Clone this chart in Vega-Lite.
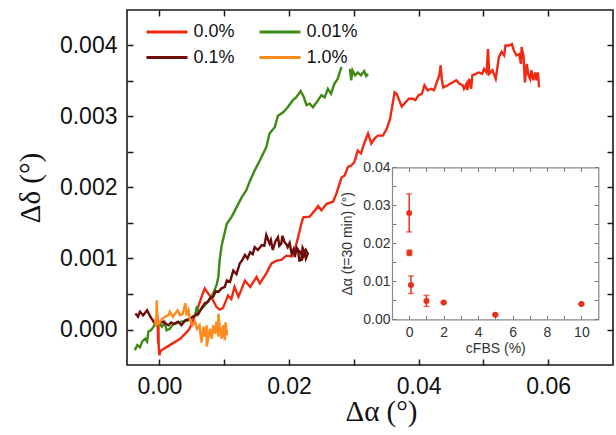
{
  "$schema": "https://vega.github.io/schema/vega-lite/v6.json",
  "width": 486,
  "height": 355,
  "autosize": "none",
  "padding": {"left": 127, "top": 10, "right": 3, "bottom": 70},
  "config": {
    "view": {"stroke": "#1a1a1a", "strokeWidth": 1.6},
    "axis": {"grid": false, "domain": false, "labelFont": "Liberation Sans", "titleFontWeight": "normal"}
  },
  "datasets": {
    "curves": [
      {"s": "0.0%", "i": 1, "a": -0.0003, "d": 0.0002},
      {"s": "0.0%", "i": 2, "a": -0.0002, "d": -0.0002},
      {"s": "0.0%", "i": 3, "a": -0.00015, "d": 0.0001},
      {"s": "0.0%", "i": 4, "a": -0.0001, "d": -0.00025},
      {"s": "0.0%", "i": 5, "a": 0.0, "d": -0.00036},
      {"s": "0.0%", "i": 6, "a": 0.0002, "d": -0.0003},
      {"s": "0.0%", "i": 7, "a": 0.0016, "d": -0.00022},
      {"s": "0.0%", "i": 8, "a": 0.0032, "d": -0.00013},
      {"s": "0.0%", "i": 9, "a": 0.0045, "d": -0.00001},
      {"s": "0.0%", "i": 10, "a": 0.005, "d": 0.00008},
      {"s": "0.0%", "i": 11, "a": 0.0058, "d": 0.00027},
      {"s": "0.0%", "i": 12, "a": 0.0065, "d": 0.00046},
      {"s": "0.0%", "i": 13, "a": 0.007, "d": 0.00058},
      {"s": "0.0%", "i": 14, "a": 0.0075, "d": 0.00051},
      {"s": "0.0%", "i": 15, "a": 0.0081, "d": 0.00044},
      {"s": "0.0%", "i": 16, "a": 0.0088, "d": 0.00032},
      {"s": "0.0%", "i": 17, "a": 0.0093, "d": 0.00028},
      {"s": "0.0%", "i": 18, "a": 0.0098, "d": 0.0003},
      {"s": "0.0%", "i": 19, "a": 0.0106, "d": 0.00048},
      {"s": "0.0%", "i": 20, "a": 0.0111, "d": 0.00043},
      {"s": "0.0%", "i": 21, "a": 0.0116, "d": 0.0006},
      {"s": "0.0%", "i": 22, "a": 0.0122, "d": 0.00046},
      {"s": "0.0%", "i": 23, "a": 0.0132, "d": 0.00069},
      {"s": "0.0%", "i": 24, "a": 0.014, "d": 0.0006},
      {"s": "0.0%", "i": 25, "a": 0.015, "d": 0.00074},
      {"s": "0.0%", "i": 26, "a": 0.0155, "d": 0.00065},
      {"s": "0.0%", "i": 27, "a": 0.0165, "d": 0.00079},
      {"s": "0.0%", "i": 28, "a": 0.0173, "d": 0.00093},
      {"s": "0.0%", "i": 29, "a": 0.0181, "d": 0.00097},
      {"s": "0.0%", "i": 30, "a": 0.0188, "d": 0.00098},
      {"s": "0.0%", "i": 31, "a": 0.0196, "d": 0.00104},
      {"s": "0.0%", "i": 32, "a": 0.0204, "d": 0.00103},
      {"s": "0.0%", "i": 33, "a": 0.0209, "d": 0.00112},
      {"s": "0.0%", "i": 34, "a": 0.0214, "d": 0.0013},
      {"s": "0.0%", "i": 35, "a": 0.0219, "d": 0.00149},
      {"s": "0.0%", "i": 36, "a": 0.0222, "d": 0.00158},
      {"s": "0.0%", "i": 37, "a": 0.0232, "d": 0.00159},
      {"s": "0.0%", "i": 38, "a": 0.024, "d": 0.00168},
      {"s": "0.0%", "i": 39, "a": 0.0245, "d": 0.00174},
      {"s": "0.0%", "i": 40, "a": 0.025, "d": 0.00168},
      {"s": "0.0%", "i": 41, "a": 0.0258, "d": 0.00177},
      {"s": "0.0%", "i": 42, "a": 0.0268, "d": 0.0018},
      {"s": "0.0%", "i": 43, "a": 0.0273, "d": 0.00191},
      {"s": "0.0%", "i": 44, "a": 0.0281, "d": 0.00214},
      {"s": "0.0%", "i": 45, "a": 0.0286, "d": 0.00217},
      {"s": "0.0%", "i": 46, "a": 0.0291, "d": 0.00229},
      {"s": "0.0%", "i": 47, "a": 0.0296, "d": 0.00231},
      {"s": "0.0%", "i": 48, "a": 0.0301, "d": 0.00236},
      {"s": "0.0%", "i": 49, "a": 0.0306, "d": 0.00252},
      {"s": "0.0%", "i": 50, "a": 0.0311, "d": 0.00248},
      {"s": "0.0%", "i": 51, "a": 0.0316, "d": 0.00262},
      {"s": "0.0%", "i": 52, "a": 0.0322, "d": 0.00276},
      {"s": "0.0%", "i": 53, "a": 0.0327, "d": 0.00262},
      {"s": "0.0%", "i": 54, "a": 0.0332, "d": 0.00269},
      {"s": "0.0%", "i": 55, "a": 0.0337, "d": 0.00273},
      {"s": "0.0%", "i": 56, "a": 0.0345, "d": 0.00273},
      {"s": "0.0%", "i": 57, "a": 0.0351, "d": 0.00283},
      {"s": "0.0%", "i": 58, "a": 0.0356, "d": 0.00297},
      {"s": "0.0%", "i": 59, "a": 0.0359, "d": 0.00313},
      {"s": "0.0%", "i": 60, "a": 0.0363, "d": 0.00334},
      {"s": "0.0%", "i": 61, "a": 0.0366, "d": 0.00332},
      {"s": "0.0%", "i": 62, "a": 0.037, "d": 0.00323},
      {"s": "0.0%", "i": 63, "a": 0.0374, "d": 0.00314},
      {"s": "0.0%", "i": 64, "a": 0.038, "d": 0.0032},
      {"s": "0.0%", "i": 65, "a": 0.0385, "d": 0.00325},
      {"s": "0.0%", "i": 66, "a": 0.0391, "d": 0.00325},
      {"s": "0.0%", "i": 67, "a": 0.0395, "d": 0.00323},
      {"s": "0.0%", "i": 68, "a": 0.04, "d": 0.0033},
      {"s": "0.0%", "i": 69, "a": 0.0405, "d": 0.00332},
      {"s": "0.0%", "i": 70, "a": 0.0409, "d": 0.00344},
      {"s": "0.0%", "i": 71, "a": 0.0414, "d": 0.00337},
      {"s": "0.0%", "i": 72, "a": 0.0419, "d": 0.00339},
      {"s": "0.0%", "i": 73, "a": 0.0424, "d": 0.00337},
      {"s": "0.0%", "i": 74, "a": 0.0429, "d": 0.00351},
      {"s": "0.0%", "i": 75, "a": 0.0432, "d": 0.00358},
      {"s": "0.0%", "i": 76, "a": 0.0434, "d": 0.00372},
      {"s": "0.0%", "i": 77, "a": 0.0436, "d": 0.00351},
      {"s": "0.0%", "i": 78, "a": 0.0438, "d": 0.00341},
      {"s": "0.0%", "i": 79, "a": 0.0445, "d": 0.00344},
      {"s": "0.0%", "i": 80, "a": 0.0452, "d": 0.00348},
      {"s": "0.0%", "i": 81, "a": 0.0458, "d": 0.00351},
      {"s": "0.0%", "i": 82, "a": 0.0463, "d": 0.00346},
      {"s": "0.0%", "i": 83, "a": 0.0468, "d": 0.00344},
      {"s": "0.0%", "i": 84, "a": 0.047, "d": 0.00339},
      {"s": "0.0%", "i": 85, "a": 0.0474, "d": 0.00346},
      {"s": "0.0%", "i": 86, "a": 0.0475, "d": 0.00337},
      {"s": "0.0%", "i": 87, "a": 0.0478, "d": 0.00353},
      {"s": "0.0%", "i": 88, "a": 0.0481, "d": 0.00339},
      {"s": "0.0%", "i": 89, "a": 0.0483, "d": 0.00358},
      {"s": "0.0%", "i": 90, "a": 0.0488, "d": 0.0036},
      {"s": "0.0%", "i": 91, "a": 0.0493, "d": 0.00362},
      {"s": "0.0%", "i": 92, "a": 0.0498, "d": 0.0036},
      {"s": "0.0%", "i": 93, "a": 0.0501, "d": 0.00367},
      {"s": "0.0%", "i": 94, "a": 0.0505, "d": 0.00362},
      {"s": "0.0%", "i": 95, "a": 0.0507, "d": 0.00395},
      {"s": "0.0%", "i": 96, "a": 0.0509, "d": 0.0036},
      {"s": "0.0%", "i": 97, "a": 0.0514, "d": 0.00365},
      {"s": "0.0%", "i": 98, "a": 0.0519, "d": 0.00353},
      {"s": "0.0%", "i": 99, "a": 0.0524, "d": 0.00384},
      {"s": "0.0%", "i": 100, "a": 0.0528, "d": 0.00391},
      {"s": "0.0%", "i": 101, "a": 0.0532, "d": 0.00386},
      {"s": "0.0%", "i": 102, "a": 0.0534, "d": 0.004},
      {"s": "0.0%", "i": 103, "a": 0.054, "d": 0.004},
      {"s": "0.0%", "i": 104, "a": 0.0544, "d": 0.00402},
      {"s": "0.0%", "i": 105, "a": 0.0547, "d": 0.00393},
      {"s": "0.0%", "i": 106, "a": 0.0551, "d": 0.00386},
      {"s": "0.0%", "i": 107, "a": 0.0555, "d": 0.00388},
      {"s": "0.0%", "i": 108, "a": 0.0558, "d": 0.00374},
      {"s": "0.0%", "i": 109, "a": 0.0559, "d": 0.00398},
      {"s": "0.0%", "i": 110, "a": 0.0562, "d": 0.00384},
      {"s": "0.0%", "i": 111, "a": 0.0564, "d": 0.00348},
      {"s": "0.0%", "i": 112, "a": 0.0567, "d": 0.00374},
      {"s": "0.0%", "i": 113, "a": 0.0569, "d": 0.0036},
      {"s": "0.0%", "i": 114, "a": 0.0572, "d": 0.00353},
      {"s": "0.0%", "i": 115, "a": 0.0574, "d": 0.00365},
      {"s": "0.0%", "i": 116, "a": 0.0577, "d": 0.00351},
      {"s": "0.0%", "i": 117, "a": 0.058, "d": 0.00362},
      {"s": "0.0%", "i": 118, "a": 0.0582, "d": 0.00351},
      {"s": "0.0%", "i": 119, "a": 0.0584, "d": 0.00362},
      {"s": "0.0%", "i": 120, "a": 0.0586, "d": 0.00341},

      {"s": "0.01%", "i": 1, "a": -0.0038, "d": -0.00029},
      {"s": "0.01%", "i": 2, "a": -0.0034, "d": -0.00022},
      {"s": "0.01%", "i": 3, "a": -0.003, "d": -0.00025},
      {"s": "0.01%", "i": 4, "a": -0.0026, "d": -0.00016},
      {"s": "0.01%", "i": 5, "a": -0.0022, "d": -0.00013},
      {"s": "0.01%", "i": 6, "a": -0.0019, "d": -0.00017},
      {"s": "0.01%", "i": 7, "a": -0.0017, "d": -0.00003},
      {"s": "0.01%", "i": 8, "a": -0.0013, "d": -0.00001},
      {"s": "0.01%", "i": 9, "a": -0.0009, "d": 0.00004},
      {"s": "0.01%", "i": 10, "a": -0.0006, "d": 0.0001},
      {"s": "0.01%", "i": 11, "a": -0.0004, "d": 0.00006},
      {"s": "0.01%", "i": 12, "a": 0.0, "d": 0.00008},
      {"s": "0.01%", "i": 13, "a": 0.0004, "d": 0.00004},
      {"s": "0.01%", "i": 14, "a": 0.0008, "d": 0.0001},
      {"s": "0.01%", "i": 15, "a": 0.0011, "d": -0.00001},
      {"s": "0.01%", "i": 16, "a": 0.0016, "d": 0.00001},
      {"s": "0.01%", "i": 17, "a": 0.002, "d": 0.00006},
      {"s": "0.01%", "i": 18, "a": 0.0024, "d": 0.00008},
      {"s": "0.01%", "i": 19, "a": 0.0034, "d": 0.00011},
      {"s": "0.01%", "i": 20, "a": 0.0045, "d": 0.00013},
      {"s": "0.01%", "i": 21, "a": 0.0055, "d": 0.0002},
      {"s": "0.01%", "i": 22, "a": 0.0058, "d": 0.00033},
      {"s": "0.01%", "i": 23, "a": 0.006, "d": 0.00022},
      {"s": "0.01%", "i": 24, "a": 0.0063, "d": 0.00027},
      {"s": "0.01%", "i": 25, "a": 0.0073, "d": 0.00037},
      {"s": "0.01%", "i": 26, "a": 0.0083, "d": 0.00051},
      {"s": "0.01%", "i": 27, "a": 0.0088, "d": 0.00062},
      {"s": "0.01%", "i": 28, "a": 0.0091, "d": 0.00074},
      {"s": "0.01%", "i": 29, "a": 0.0093, "d": 0.00098},
      {"s": "0.01%", "i": 30, "a": 0.0096, "d": 0.00118},
      {"s": "0.01%", "i": 31, "a": 0.0104, "d": 0.00149},
      {"s": "0.01%", "i": 32, "a": 0.0111, "d": 0.00158},
      {"s": "0.01%", "i": 33, "a": 0.0119, "d": 0.00172},
      {"s": "0.01%", "i": 34, "a": 0.0127, "d": 0.00186},
      {"s": "0.01%", "i": 35, "a": 0.0134, "d": 0.00196},
      {"s": "0.01%", "i": 36, "a": 0.014, "d": 0.0021},
      {"s": "0.01%", "i": 37, "a": 0.0147, "d": 0.00224},
      {"s": "0.01%", "i": 38, "a": 0.0155, "d": 0.00238},
      {"s": "0.01%", "i": 39, "a": 0.0165, "d": 0.00257},
      {"s": "0.01%", "i": 40, "a": 0.017, "d": 0.00276},
      {"s": "0.01%", "i": 41, "a": 0.0178, "d": 0.00285},
      {"s": "0.01%", "i": 42, "a": 0.0183, "d": 0.00301},
      {"s": "0.01%", "i": 43, "a": 0.0191, "d": 0.00306},
      {"s": "0.01%", "i": 44, "a": 0.0198, "d": 0.00313},
      {"s": "0.01%", "i": 45, "a": 0.0206, "d": 0.00323},
      {"s": "0.01%", "i": 46, "a": 0.0211, "d": 0.00327},
      {"s": "0.01%", "i": 47, "a": 0.0218, "d": 0.00336},
      {"s": "0.01%", "i": 48, "a": 0.0223, "d": 0.00327},
      {"s": "0.01%", "i": 49, "a": 0.0227, "d": 0.00316},
      {"s": "0.01%", "i": 50, "a": 0.0232, "d": 0.00318},
      {"s": "0.01%", "i": 51, "a": 0.0237, "d": 0.00313},
      {"s": "0.01%", "i": 52, "a": 0.0245, "d": 0.00323},
      {"s": "0.01%", "i": 53, "a": 0.025, "d": 0.0033},
      {"s": "0.01%", "i": 54, "a": 0.0255, "d": 0.00327},
      {"s": "0.01%", "i": 55, "a": 0.026, "d": 0.00339},
      {"s": "0.01%", "i": 56, "a": 0.0265, "d": 0.00332},
      {"s": "0.01%", "i": 57, "a": 0.027, "d": 0.00346},
      {"s": "0.01%", "i": 58, "a": 0.0275, "d": 0.00353},
      {"s": "0.01%", "i": 59, "a": 0.0281, "d": 0.0037},
      {"s": "0.01%", "i": 60, "a": 0.0288, "d": null},
      {"s": "0.01%", "i": 61, "a": 0.0294, "d": 0.00367},
      {"s": "0.01%", "i": 62, "a": 0.0296, "d": 0.00351},
      {"s": "0.01%", "i": 63, "a": 0.0298, "d": 0.00365},
      {"s": "0.01%", "i": 64, "a": 0.0302, "d": 0.00358},
      {"s": "0.01%", "i": 65, "a": 0.0306, "d": 0.00362},
      {"s": "0.01%", "i": 66, "a": 0.0311, "d": 0.00358},
      {"s": "0.01%", "i": 67, "a": 0.0316, "d": 0.00364},
      {"s": "0.01%", "i": 68, "a": 0.0319, "d": 0.00357},
      {"s": "0.01%", "i": 69, "a": 0.0322, "d": 0.0036},

      {"s": "0.1%", "i": 1, "a": -0.0037, "d": 0.000225},
      {"s": "0.1%", "i": 2, "a": -0.0033, "d": 0.00018},
      {"s": "0.1%", "i": 3, "a": -0.003, "d": 0.00025},
      {"s": "0.1%", "i": 4, "a": -0.0025, "d": 0.0002},
      {"s": "0.1%", "i": 5, "a": -0.0019, "d": 0.00027},
      {"s": "0.1%", "i": 6, "a": -0.0014, "d": 0.00018},
      {"s": "0.1%", "i": 7, "a": -0.0009, "d": 0.00011},
      {"s": "0.1%", "i": 8, "a": -0.0005, "d": 0.00014},
      {"s": "0.1%", "i": 9, "a": -0.0002, "d": 0.00008},
      {"s": "0.1%", "i": 10, "a": 0.0002, "d": 0.0001},
      {"s": "0.1%", "i": 11, "a": 0.0006, "d": 0.00011},
      {"s": "0.1%", "i": 12, "a": 0.001, "d": 0.00008},
      {"s": "0.1%", "i": 13, "a": 0.0014, "d": 0.00006},
      {"s": "0.1%", "i": 14, "a": 0.0018, "d": 0.0001},
      {"s": "0.1%", "i": 15, "a": 0.0022, "d": 0.00008},
      {"s": "0.1%", "i": 16, "a": 0.0029, "d": 0.00011},
      {"s": "0.1%", "i": 17, "a": 0.0034, "d": 0.00006},
      {"s": "0.1%", "i": 18, "a": 0.004, "d": 0.00013},
      {"s": "0.1%", "i": 19, "a": 0.0047, "d": 0.00015},
      {"s": "0.1%", "i": 20, "a": 0.0055, "d": 0.0002},
      {"s": "0.1%", "i": 21, "a": 0.006, "d": 0.00022},
      {"s": "0.1%", "i": 22, "a": 0.0065, "d": 0.0003},
      {"s": "0.1%", "i": 23, "a": 0.007, "d": 0.00037},
      {"s": "0.1%", "i": 24, "a": 0.0075, "d": 0.00039},
      {"s": "0.1%", "i": 25, "a": 0.0079, "d": 0.00045},
      {"s": "0.1%", "i": 26, "a": 0.0083, "d": 0.00046},
      {"s": "0.1%", "i": 27, "a": 0.0087, "d": 0.00054},
      {"s": "0.1%", "i": 28, "a": 0.0091, "d": 0.00053},
      {"s": "0.1%", "i": 29, "a": 0.0096, "d": 0.00058},
      {"s": "0.1%", "i": 30, "a": 0.0101, "d": 0.0006},
      {"s": "0.1%", "i": 31, "a": 0.0104, "d": 0.00069},
      {"s": "0.1%", "i": 32, "a": 0.0109, "d": 0.00067},
      {"s": "0.1%", "i": 33, "a": 0.0114, "d": 0.00083},
      {"s": "0.1%", "i": 34, "a": 0.0119, "d": 0.00078},
      {"s": "0.1%", "i": 35, "a": 0.0124, "d": 0.00093},
      {"s": "0.1%", "i": 36, "a": 0.0128, "d": 0.00098},
      {"s": "0.1%", "i": 37, "a": 0.0132, "d": 0.00105},
      {"s": "0.1%", "i": 38, "a": 0.0136, "d": 0.001},
      {"s": "0.1%", "i": 39, "a": 0.014, "d": 0.00109},
      {"s": "0.1%", "i": 40, "a": 0.0144, "d": 0.00106},
      {"s": "0.1%", "i": 41, "a": 0.0147, "d": 0.00116},
      {"s": "0.1%", "i": 42, "a": 0.0152, "d": 0.00112},
      {"s": "0.1%", "i": 43, "a": 0.0158, "d": 0.00119},
      {"s": "0.1%", "i": 44, "a": 0.0162, "d": 0.00118},
      {"s": "0.1%", "i": 45, "a": 0.0165, "d": 0.00133},
      {"s": "0.1%", "i": 46, "a": 0.017, "d": 0.00121},
      {"s": "0.1%", "i": 47, "a": 0.0172, "d": 0.00126},
      {"s": "0.1%", "i": 48, "a": 0.0175, "d": 0.00112},
      {"s": "0.1%", "i": 49, "a": 0.0179, "d": 0.00124},
      {"s": "0.1%", "i": 50, "a": 0.0183, "d": 0.0013},
      {"s": "0.1%", "i": 51, "a": 0.0185, "d": 0.00118},
      {"s": "0.1%", "i": 52, "a": 0.0188, "d": 0.00121},
      {"s": "0.1%", "i": 53, "a": 0.019, "d": 0.00132},
      {"s": "0.1%", "i": 54, "a": 0.0193, "d": 0.00123},
      {"s": "0.1%", "i": 55, "a": 0.0196, "d": 0.0012},
      {"s": "0.1%", "i": 56, "a": 0.0198, "d": 0.00116},
      {"s": "0.1%", "i": 57, "a": 0.0201, "d": 0.00122},
      {"s": "0.1%", "i": 58, "a": 0.0204, "d": 0.00107},
      {"s": "0.1%", "i": 59, "a": 0.0207, "d": 0.00113},
      {"s": "0.1%", "i": 60, "a": 0.0209, "d": 0.00102},
      {"s": "0.1%", "i": 61, "a": 0.0212, "d": 0.00115},
      {"s": "0.1%", "i": 62, "a": 0.0214, "d": 0.00112},
      {"s": "0.1%", "i": 63, "a": 0.0216, "d": 0.00097},
      {"s": "0.1%", "i": 64, "a": 0.0219, "d": 0.00098},
      {"s": "0.1%", "i": 65, "a": 0.0221, "d": 0.00115},
      {"s": "0.1%", "i": 66, "a": 0.0224, "d": 0.00109},
      {"s": "0.1%", "i": 67, "a": 0.0226, "d": 0.001},
      {"s": "0.1%", "i": 68, "a": 0.0229, "d": 0.00107},
      {"s": "0.1%", "i": 69, "a": 0.0226, "d": 0.00112},
      {"s": "0.1%", "i": 70, "a": 0.0221, "d": 0.00101},
      {"s": "0.1%", "i": 71, "a": 0.0218, "d": 0.00109},
      {"s": "0.1%", "i": 72, "a": 0.0225, "d": 0.00104},

      {"s": "1.0%", "i": 1, "a": -0.0007, "d": 0.00015},
      {"s": "1.0%", "i": 2, "a": -0.0005, "d": 0.00004},
      {"s": "1.0%", "i": 3, "a": -0.0004, "d": 0.00041},
      {"s": "1.0%", "i": 4, "a": -0.0003, "d": 0.0001},
      {"s": "1.0%", "i": 5, "a": -0.0001, "d": 0.00008},
      {"s": "1.0%", "i": 6, "a": 0.0004, "d": 0.00015},
      {"s": "1.0%", "i": 7, "a": 0.0009, "d": 0.00018},
      {"s": "1.0%", "i": 8, "a": 0.0014, "d": 0.0002},
      {"s": "1.0%", "i": 9, "a": 0.0016, "d": 0.00025},
      {"s": "1.0%", "i": 10, "a": 0.0021, "d": 0.00018},
      {"s": "1.0%", "i": 11, "a": 0.0024, "d": 0.00022},
      {"s": "1.0%", "i": 12, "a": 0.0028, "d": 0.00027},
      {"s": "1.0%", "i": 13, "a": 0.0032, "d": 0.0002},
      {"s": "1.0%", "i": 14, "a": 0.0036, "d": 0.00022},
      {"s": "1.0%", "i": 15, "a": 0.004, "d": 0.00037},
      {"s": "1.0%", "i": 16, "a": 0.0042, "d": 0.0002},
      {"s": "1.0%", "i": 17, "a": 0.0045, "d": 0.00027},
      {"s": "1.0%", "i": 18, "a": 0.0047, "d": 0.00015},
      {"s": "1.0%", "i": 19, "a": 0.0051, "d": 0.00006},
      {"s": "1.0%", "i": 20, "a": 0.0055, "d": 0.00011},
      {"s": "1.0%", "i": 21, "a": 0.0058, "d": 0.00001},
      {"s": "1.0%", "i": 22, "a": 0.0062, "d": 0.00006},
      {"s": "1.0%", "i": 23, "a": 0.0065, "d": -0.00018},
      {"s": "1.0%", "i": 24, "a": 0.0068, "d": 0.00004},
      {"s": "1.0%", "i": 25, "a": 0.007, "d": -0.0001},
      {"s": "1.0%", "i": 26, "a": 0.0073, "d": 0.00006},
      {"s": "1.0%", "i": 27, "a": 0.0073, "d": -0.00024},
      {"s": "1.0%", "i": 28, "a": 0.0075, "d": -0.00015},
      {"s": "1.0%", "i": 29, "a": 0.0078, "d": 0.00001},
      {"s": "1.0%", "i": 30, "a": 0.0081, "d": -0.00013},
      {"s": "1.0%", "i": 31, "a": 0.0083, "d": 0.00006},
      {"s": "1.0%", "i": 32, "a": 0.0086, "d": -0.00006},
      {"s": "1.0%", "i": 33, "a": 0.0088, "d": 0.00011},
      {"s": "1.0%", "i": 34, "a": 0.0091, "d": -0.0001},
      {"s": "1.0%", "i": 35, "a": 0.0091, "d": 0.00022},
      {"s": "1.0%", "i": 36, "a": 0.0093, "d": 0.00004},
      {"s": "1.0%", "i": 37, "a": 0.0096, "d": -0.00013},
      {"s": "1.0%", "i": 38, "a": 0.0098, "d": 0.00006},
      {"s": "1.0%", "i": 39, "a": 0.0101, "d": -0.00015},
      {"s": "1.0%", "i": 40, "a": 0.0102, "d": 0.0001},
      {"s": "1.0%", "i": 41, "a": 0.0104, "d": -0.00008},
      {"s": "1.0%", "i": 42, "a": 0.0104, "d": -0.00001}
    ],
    "inset": [
      {"c": 0, "v": 0.028, "lo": 0.023, "hi": 0.033},
      {"c": 0.01, "v": 0.0175, "lo": 0.0168, "hi": 0.0182},
      {"c": 0.1, "v": 0.009, "lo": 0.0068, "hi": 0.0114},
      {"c": 1, "v": 0.0048, "lo": 0.0034, "hi": 0.0063},
      {"c": 2, "v": 0.0044, "lo": 0.0042, "hi": 0.0046},
      {"c": 5, "v": 0.0012, "lo": 0.0011, "hi": 0.0013},
      {"c": 10, "v": 0.004, "lo": 0.0039, "hi": 0.0041}
    ]
  },
  "layer": [
    {
      "data": {"name": "curves"},
      "layer": [
        {
          "transform": [{"filter": "datum.s == '0.0%' || datum.s == '0.01%'"}],
          "mark": {"type": "line", "strokeWidth": 2.4},
          "encoding": {
            "x": {"field": "a", "type": "quantitative", "scale": {"domain": [-0.005, 0.07], "nice": false, "zero": false},
              "axis": {"orient": "bottom", "values": [0, 0.01, 0.02, 0.03, 0.04, 0.05, 0.06],
                "labelExpr": "round(datum.value*100) % 2 == 0 ? format(datum.value, '.2f') : ''",
                "tickSize": -6, "tickWidth": 1.5, "tickColor": "#1a1a1a", "labelFontSize": 23, "labelColor": "#111", "labelPadding": 16,
                "title": "Δα (°)", "titleFont": "Liberation Serif", "titleFontSize": 29, "titleColor": "#111", "titleX": 254, "titleY": 46, "titleBaseline": "middle"}},
            "y": {"field": "d", "type": "quantitative", "scale": {"domain": [-0.0005, 0.0045], "nice": false, "zero": false},
              "axis": {"orient": "left", "values": [0, 0.0005, 0.001, 0.0015, 0.002, 0.0025, 0.003, 0.0035, 0.004],
                "labelExpr": "round(datum.value*10000) % 10 == 0 ? format(datum.value, '.3f') : ''",
                "tickSize": -6, "tickWidth": 1.5, "tickColor": "#1a1a1a", "labelFontSize": 23, "labelColor": "#111", "labelPadding": 16,
                "title": "Δδ (°)", "titleFont": "Liberation Serif", "titleFontSize": 29, "titleColor": "#111", "titleX": -97, "titleBaseline": "middle"}},
            "color": {"field": "s", "type": "nominal",
              "scale": {"domain": ["0.0%", "0.1%", "0.01%", "1.0%"], "range": ["#f02a12", "#6e0b0b", "#3f8a14", "#ff8a1e"]},
              "legend": {"orient": "none", "legendX": 28, "legendY": 10, "columns": 2, "symbolType": "M-2,0L2,0", "symbolSize": 420,
                "symbolStrokeWidth": 3, "labelFontSize": 18, "labelFont": "Liberation Sans", "labelColor": "#111", "labelOffset": 14.5,
                "columnPadding": 18, "rowPadding": 4.5, "title": null, "padding": 0}},
            "order": {"field": "i", "type": "quantitative"}
          }
        },
        {
          "transform": [{"filter": "datum.s == '0.1%' || datum.s == '1.0%'"}],
          "mark": {"type": "line", "strokeWidth": 2.4},
          "encoding": {
            "x": {"field": "a", "type": "quantitative",
              "axis": {"orient": "top", "values": [0, 0.01, 0.02, 0.03, 0.04, 0.05, 0.06], "labels": false, "tickSize": -6, "tickWidth": 1.5, "tickColor": "#1a1a1a", "title": null}},
            "y": {"field": "d", "type": "quantitative",
              "axis": {"orient": "right", "values": [0, 0.0005, 0.001, 0.0015, 0.002, 0.0025, 0.003, 0.0035, 0.004], "labels": false, "tickSize": -6, "tickWidth": 1.5, "tickColor": "#1a1a1a", "title": null}},
            "color": {"field": "s", "type": "nominal"},
            "order": {"field": "i", "type": "quantitative"}
          }
        }
      ],
      "resolve": {"axis": {"x": "independent", "y": "independent"}}
    },
    {
      "data": {"name": "inset"},
      "layer": [
        {
          "mark": {"type": "errorbar", "ticks": {"size": 6, "thickness": 1.5}, "rule": {"strokeWidth": 1.5}, "color": "#e8301c"},
          "encoding": {
            "x": {"field": "c", "type": "quantitative", "scale": {"domain": [-1, 11], "range": [265, 471.6], "nice": false, "zero": false},
              "axis": {"orient": "bottom", "offset": -45.7, "values": [0, 1, 2, 3, 4, 5, 6, 7, 8, 9, 10],
                "labelExpr": "datum.value % 2 == 0 ? datum.label : ''",
                "domain": true, "domainColor": "#888", "domainWidth": 1.2, "tickSize": -4, "tickColor": "#777", "tickWidth": 1,
                "labelFontSize": 14, "labelColor": "#333", "labelPadding": 10,
                "title": "cFBS (%)", "titleFont": "Liberation Sans", "titleFontSize": 14, "titleColor": "#333", "titleY": 29, "titleBaseline": "middle"}},
            "y": {"field": "lo", "type": "quantitative", "scale": {"domain": [0, 0.04], "range": [309.3, 157.3], "nice": false, "zero": false},
              "axis": {"orient": "left", "offset": -265, "values": [0, 0.005, 0.01, 0.015, 0.02, 0.025, 0.03, 0.035, 0.04],
                "labelExpr": "round(datum.value*1000) % 10 == 0 ? format(datum.value, '.2f') : ''",
                "domain": true, "domainColor": "#888", "domainWidth": 1.2, "tickSize": -4, "tickColor": "#777", "tickWidth": 1,
                "labelFontSize": 14, "labelColor": "#333", "labelPadding": 6,
                "title": "Δα (t=30 min)  (°)", "titleFont": "Liberation Sans", "titleFontSize": 14, "titleColor": "#333", "titleX": -45, "titleBaseline": "middle"}},
            "y2": {"field": "hi"}
          }
        },
        {
          "mark": {"type": "point", "filled": true, "size": 36, "color": "#e8301c", "opacity": 1},
          "encoding": {
            "x": {"field": "c", "type": "quantitative",
              "axis": {"orient": "top", "offset": -157.3, "values": [0, 1, 2, 3, 4, 5, 6, 7, 8, 9, 10], "labels": false,
                "domain": true, "domainColor": "#888", "domainWidth": 1.2, "tickSize": -4, "tickColor": "#777", "tickWidth": 1, "title": null}},
            "y": {"field": "v", "type": "quantitative",
              "axis": {"orient": "right", "offset": -14.7, "values": [0, 0.005, 0.01, 0.015, 0.02, 0.025, 0.03, 0.035, 0.04], "labels": false,
                "domain": true, "domainColor": "#888", "domainWidth": 1.2, "tickSize": -4, "tickColor": "#777", "tickWidth": 1, "title": null}}
          }
        }
      ],
      "resolve": {"axis": {"x": "independent", "y": "independent"}}
    }
  ],
  "resolve": {"scale": {"x": "independent", "y": "independent"}, "axis": {"x": "independent", "y": "independent"}}
}
